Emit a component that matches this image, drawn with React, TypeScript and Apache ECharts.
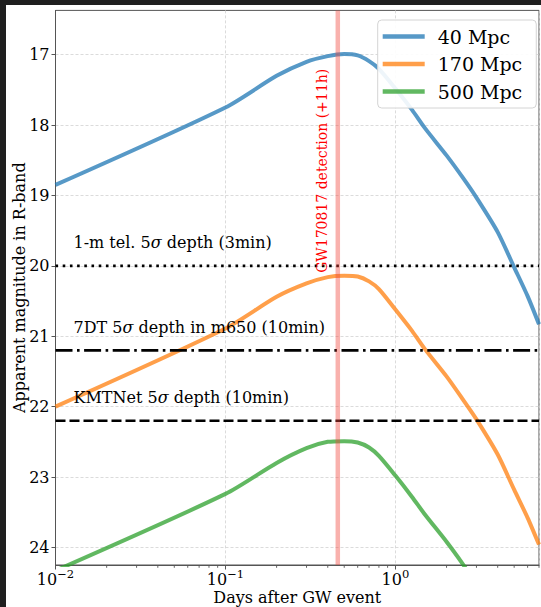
import React, { useEffect, useRef } from "react";
import * as echarts from "echarts";

// ---- data ----
const days = [0.01, 0.1, 0.2, 0.3, 0.4, 0.5, 0.6, 0.7, 0.8, 1.0, 1.25, 1.5, 2.0, 2.5, 3.0, 4.0, 5.0, 6.0, 7.0];
const mag40 = [18.85, 17.75, 17.3, 17.1, 17.02, 16.99, 17.01, 17.09, 17.2, 17.48, 17.78, 18.05, 18.43, 18.75, 19.03, 19.52, 20.02, 20.43, 20.83];
const mag170 = [22.0, 20.89, 20.44, 20.25, 20.16, 20.14, 20.15, 20.22, 20.33, 20.62, 20.92, 21.19, 21.57, 21.9, 22.18, 22.68, 23.18, 23.58, 23.96];
const days500 = [0.01, 0.1, 0.2, 0.3, 0.4, 0.5, 0.6, 0.7, 0.8, 1.0, 1.25, 1.5, 2.0, 2.5, 3.0];
const mag500 = [24.33, 23.24, 22.8, 22.59, 22.5, 22.49, 22.51, 22.58, 22.7, 22.98, 23.28, 23.54, 23.92, 24.24, 24.52];
const seriesNames = ["40 Mpc", "170 Mpc", "500 Mpc"];
const seriesColors = ["rgba(31,119,180,0.75)", "rgba(255,127,14,0.75)", "rgba(44,160,44,0.75)"];

const depthMags = [20.0, 21.2, 22.2];
const depthLabels = [
  "1-m tel. 5{i|σ} depth (3min)",
  "7DT 5{i|σ} depth in m650 (10min)",
  "KMTNet 5{i|σ} depth (10min)",
];
const depthDash = [
  [2.6, 4.6],
  [17, 4.5, 2.6, 4.5],
  [10, 4],
];

const gwDetectionDay = 11 / 24;
const gwLabel = "GW170817 detection (+11h)";

const xMin = 0.01;
const xMax = 7.0;
const yMin = 16.37;
const yMax = 24.25;
const yTicks = [17, 18, 19, 20, 21, 22, 23, 24];
const minorTickDays = [
  0.02, 0.03, 0.04, 0.05, 0.06, 0.07, 0.08, 0.09,
  0.2, 0.3, 0.4, 0.5, 0.6, 0.7, 0.8, 0.9,
  2, 3, 4, 5, 6, 7,
];

const FONT = '"DejaVu Serif", serif';
const AXIS_COLOR = "#555";

export default function App() {
  const ref = useRef<HTMLDivElement>(null);

  useEffect(() => {
    const chart = echarts.init(ref.current as HTMLDivElement, null, { renderer: "svg" });

    const curveData = [
      days.map((d, i) => [d, mag40[i]]),
      days.map((d, i) => [d, mag170[i]]),
      days500.map((d, i) => [d, mag500[i]]),
    ];

    const curveSeries = curveData.map((data, i) => ({
      type: "line",
      name: seriesNames[i],
      data,
      symbol: "none",
      showSymbol: false,
      clip: true,
      smooth: 0.25,
      z: 2,
      color: seriesColors[i],
      lineStyle: { width: 4, color: seriesColors[i], join: "round", cap: "butt" },
      itemStyle: { color: seriesColors[i] },
      silent: true,
    }));

    const depthSeries = depthMags.map((m, i) => ({
      type: "line",
      name: "depth" + i,
      data: [
        [xMin, m],
        [xMax, m],
      ],
      symbol: "none",
      z: 3,
      silent: true,
      lineStyle: { width: 2.6, color: "#000", type: depthDash[i], cap: "butt" },
    }));

    const gwSeries = {
      type: "line",
      name: "gw",
      data: [
        [gwDetectionDay, yMin],
        [gwDetectionDay, yMax],
      ],
      symbol: "none",
      z: 4,
      silent: true,
      lineStyle: { width: 4.5, color: "rgba(240,70,60,0.42)" },
    };

    const minorTickSeries = {
      type: "custom",
      name: "minorTicks",
      silent: true,
      clip: false,
      data: minorTickDays.map((d) => [d, yMax]),
      renderItem: (params: any, api: any) => {
        const p = api.coord([api.value(0), api.value(1)]);
        const bottom = params.coordSys.y + params.coordSys.height;
        return {
          type: "line",
          shape: { x1: p[0], y1: bottom, x2: p[0], y2: bottom + 2.8 },
          style: { stroke: AXIS_COLOR, lineWidth: 0.9 },
        };
      },
    };

    const option: any = {
      animation: false,
      backgroundColor: "#fff",
      textStyle: { fontFamily: FONT },
      grid: {
        left: 49.5,
        top: 5.4,
        right: 2,
        bottom: 42,
        containLabel: false,
        outerBoundsMode: "none",
        show: true,
        borderColor: AXIS_COLOR,
        borderWidth: 1,
        backgroundColor: "transparent",
      },
      legend: {
        data: seriesNames,
        left: 371.7,
        top: 15,
        orient: "vertical",
        icon: "rect",
        itemWidth: 42,
        itemHeight: 4.5,
        itemGap: 7.5,
        padding: [6.5, 14, 6.5, 5],
        backgroundColor: "rgba(255,255,255,0.9)",
        borderColor: "#d4d4d4",
        borderWidth: 1,
        borderRadius: 4,
        selectedMode: false,
        textStyle: {
          fontFamily: FONT,
          fontSize: 19,
          color: "#000",
          lineHeight: 20,
          padding: [0, 0, 0, 8],
        },
      },
      xAxis: {
        type: "log",
        logBase: 10,
        min: xMin,
        max: xMax,
        name: "Days after GW event",
        nameLocation: "middle",
        nameGap: 24,
        nameMoveOverlap: false,
        nameTextStyle: { fontFamily: FONT, fontSize: 16, color: "#000", verticalAlign: "top" },
        axisLine: { show: true, lineStyle: { color: AXIS_COLOR, width: 1 } },
        axisTick: { show: true, inside: false, length: 4.5, lineStyle: { color: AXIS_COLOR, width: 1 } },
        minorTick: { show: false },
        splitLine: { show: true, lineStyle: { color: "#d2d2d2", width: 0.8, type: [3, 2] } },
        axisLabel: {
          margin: 3,
          showMaxLabel: false,
          formatter: (v: number) => {
            const e = Math.log10(v);
            const r = Math.round(e);
            if (Math.abs(e - r) > 1e-6) return "";
            const exp = r < 0 ? "\u2212" + -r : String(r);
            return "{b|10}{s|" + exp + "}";
          },
          rich: {
            b: { fontFamily: FONT, fontSize: 16, color: "#000", lineHeight: 19, verticalAlign: "bottom" },
            s: { fontFamily: FONT, fontSize: 11.5, color: "#000", lineHeight: 12, verticalAlign: "top" },
          },
        },
      },
      yAxis: {
        type: "value",
        inverse: true,
        min: yMin,
        max: yMax,
        minInterval: 1,
        maxInterval: 1,
        name: "Apparent magnitude in R-band",
        nameLocation: "middle",
        nameGap: 28,
        nameMoveOverlap: false,
        nameTextStyle: { fontFamily: FONT, fontSize: 16, color: "#000", verticalAlign: "bottom" },
        axisLine: { show: true, lineStyle: { color: AXIS_COLOR, width: 1 } },
        axisTick: { show: true, inside: false, length: 4, customValues: yTicks, lineStyle: { color: AXIS_COLOR, width: 1 } },
        splitLine: { show: true, lineStyle: { color: "#d2d2d2", width: 0.8, type: [3, 2] } },
        axisLabel: {
          margin: 6,
          customValues: yTicks,
          interval: 0,
          hideOverlap: false,
          fontFamily: FONT,
          fontSize: 16,
          color: "#000",
        },
      },
      series: [...curveSeries, ...depthSeries, gwSeries, minorTickSeries],
    };

    chart.setOption(option);

    const xPix = (v: number) => chart.convertToPixel({ xAxisIndex: 0 }, v) as number;
    const yPix = (v: number) => chart.convertToPixel({ yAxisIndex: 0 }, v) as number;

    const graphics: any[] = depthMags.map((m, i) => ({
      type: "text",
      x: xPix(xMin) + 18,
      y: yPix(m) - 23,
      silent: true,
      z: 10,
      style: {
        text: depthLabels[i],
        fontFamily: FONT,
        fontSize: 16,
        fill: "#000",
        verticalAlign: "middle",
        align: "left",
        rich: { i: { fontFamily: FONT, fontSize: 16, fontStyle: "italic", fill: "#000" } },
      },
    }));
    graphics.push({
      type: "text",
      x: xPix(gwDetectionDay) - 15.5,
      y: yPix(18.65),
      rotation: Math.PI / 2,
      silent: true,
      z: 10,
      style: {
        text: gwLabel,
        fontFamily: FONT,
        fontSize: 14,
        fill: "#ff0000",
        align: "center",
        verticalAlign: "middle",
      },
    });
    chart.setOption({ graphic: graphics });

    return () => {
      chart.dispose();
    };
  }, []);

  return (
    <div style={{ position: "absolute", left: 0, top: 0, width: 541, height: 607, background: "#1f1f1f" }}>
      <div
        ref={ref}
        style={{ position: "absolute", left: 6, top: 5, width: 535, height: 602, background: "#fff" }}
      />
    </div>
  );
}
